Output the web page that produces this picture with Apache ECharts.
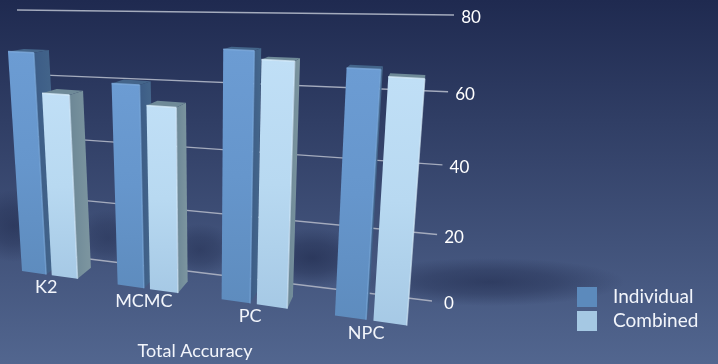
<!DOCTYPE html>
<html>
<head>
<meta charset="utf-8">
<style>html,body{margin:0;padding:0;background:#33426c}#chart{width:718px;height:364px}</style>
<script src="https://cdn.jsdelivr.net/npm/echarts@6/dist/echarts.min.js"></script>
</head>
<body>
<div id="chart"></div>
<script>
// Accuracy of each structure-learning method, individual and combined.
const categories = ['K2', 'MCMC', 'PC', 'NPC'];
const individual = [67, 59.6, 70.2, 66.9];
const combined = [55.6, 54.1, 68, 65.2];
const yTicks = [0, 20, 40, 60, 80];

const W = 718, H = 364;
const FONT = 'Lato, "Open Sans", sans-serif';
const BAR_OFFSET = { Individual: [0, 0.26], Combined: [0.32, 0.59] };

// Perspective planes, corners ordered (0,0) (1,0) (1,1) (0,1) in axis space.
function planeFrom(q) {
  const [x0, y0] = q[0], [x1, y1] = q[1], [x2, y2] = q[2], [x3, y3] = q[3];
  const dx1 = x1 - x2, dx2 = x3 - x2, sx = x0 - x1 + x2 - x3;
  const dy1 = y1 - y2, dy2 = y3 - y2, sy = y0 - y1 + y2 - y3;
  const den = dx1 * dy2 - dx2 * dy1;
  const g = (sx * dy2 - dx2 * sy) / den, h = (dx1 * sy - sx * dy1) / den;
  const a = x1 - x0 + g * x1, b = x3 - x0 + h * x3;
  const d = y1 - y0 + g * y1, e = y3 - y0 + h * y3;
  return p => {
    const u = p[0] / W, v = 1 - p[1] / H;
    const k = g * u + h * v + 1;
    return [(a * u + b * v + x0) / k, (d * u + e * v + y0) / k];
  };
}
const wall = planeFrom([[32, 252], [432, 301], [454, 15], [17, 10]]);
const front = planeFrom([[22, 271], [459, 333], [488, 18], [5, 5]]);
// The rear of each bar shrinks from the front towards the depth vanishing point.
const DEPTH_POINT = [440, -20], DEPTH = 0.037;
const rear = p => {
  const f = front(p);
  return [f[0] + (DEPTH_POINT[0] - f[0]) * DEPTH, f[1] + (DEPTH_POINT[1] - f[1]) * DEPTH];
};

const vGrad = (stops) => new echarts.graphic.LinearGradient(0, 0, 0, 1,
  stops.map((c, i) => ({ offset: i / (stops.length - 1), color: c })));
const hGrad = (stops) => new echarts.graphic.LinearGradient(0, 0, 1, 0,
  stops.map((c, i) => ({ offset: i / (stops.length - 1), color: c })));

const SKIN = {
  Individual: {
    front: vGrad(['#6c9cd3', '#6696cc', '#5e8cbe']),
    side: hGrad(['#3c5c86', '#46688c']),
    top: '#44658a',
    edge: '#7fadde'
  },
  Combined: {
    front: vGrad(['#c0dff6', '#b8d9f1', '#a6c9e5']),
    side: hGrad(['#6c8796', '#7d96a0']),
    top: '#6f8a98',
    edge: '#d8edfb'
  }
};

function barRenderer(name) {
  const skin = SKIN[name], span = BAR_OFFSET[name];
  return (params, api) => {
    const i = api.value(0), y = api.value(1);
    const at = (x, val) => api.coord([i + x, val]);
    const fl0 = front(at(span[0], 0)), fr0 = front(at(span[1], 0));
    const fl1 = front(at(span[0], y)), fr1 = front(at(span[1], y));
    const br0 = rear(at(span[1], 0)), br1 = rear(at(span[1], y));
    const bl1 = rear(at(span[0], y));
    const poly = (pts, fill) => ({ type: 'polygon', shape: { points: pts }, style: { fill } });
    const edge = (a, b, w, o) => ({
      type: 'line', shape: { x1: a[0], y1: a[1], x2: b[0], y2: b[1] },
      style: { stroke: skin.edge, lineWidth: w, opacity: o }
    });
    return {
      type: 'group',
      children: [
        poly([fr0, br0, br1, fr1], skin.side),
        poly([fl1, fr1, br1, bl1], skin.top),
        poly([fl0, fr0, fr1, fl1], skin.front),
        edge(fl1, fr1, 1.5, 0.8),
        edge(fr1, fr0, 1.5, 0.6)
      ]
    };
  };
}

const tickRows = yTicks.map(t => [t]);
const catRows = categories.map((c, i) => [i, c]);

const option = {
  animation: false,
  backgroundColor: new echarts.graphic.LinearGradient(0, 0, 0, 1, [
    { offset: 0, color: '#1f2a50' },
    { offset: 1, color: '#52668f' }
  ]),
  grid: { left: 0, top: 0, width: W, height: H },
  xAxis: { type: 'value', min: 0, max: 4, show: false },
  yAxis: { type: 'value', min: 0, max: 80, show: false },
  legend: {
    orient: 'vertical', left: 572, top: 282,
    itemWidth: 20, itemHeight: 20, itemGap: 4,
    icon: 'rect',
    data: ['Individual', 'Combined'],
    textStyle: { color: '#f2f5fb', fontFamily: FONT, fontSize: 19, padding: [0, 0, 0, 11] }
  },
  // Soft floor shadows cast by the bars; unit circles stretched into ellipses.
  graphic: [
    [490, 282, 135, 24, 0.55], [312, 258, 54, 30, 0.6], [200, 250, 36, 26, 0.45],
    [108, 238, 34, 28, 0.4], [14, 226, 42, 36, 0.5]
  ].map(([cx, cy, rx, ry, a]) => ({
    type: 'circle', z: 0, silent: true,
    x: cx, y: cy, scaleX: rx, scaleY: ry,
    shape: { cx: 0, cy: 0, r: 1 },
    style: {
      fill: new echarts.graphic.RadialGradient(0.5, 0.5, 0.5, [
        { offset: 0, color: `rgba(28,38,72,${a})` },
        { offset: 0.5, color: `rgba(28,38,72,${a * 0.65})` },
        { offset: 1, color: 'rgba(28,38,72,0)' }
      ])
    }
  })),
  series: [
    {
      type: 'custom', name: 'grid', silent: true, data: tickRows, z: 2,
      encode: { x: [], y: 0 },
      renderItem: (params, api) => {
        const t = api.value(0);
        const a = wall(api.coord([0, t])), b = wall(api.coord([4, t]));
        return {
          type: 'group',
          children: [
            { type: 'line', shape: { x1: a[0], y1: a[1], x2: b[0], y2: b[1] },
              style: { stroke: '#a4abbd', lineWidth: 1.3 } },
            { type: 'text', x: b[0] + 17, y: b[1] + 3,
              style: { text: String(t), fill: '#ffffff', font: '17px ' + FONT, align: 'center', verticalAlign: 'middle' } }
          ]
        };
      }
    },
    {
      type: 'custom', name: 'Individual', data: individual.map((v, i) => [i, v]), z: 3,
      encode: { x: 0, y: 1 }, itemStyle: { color: '#5c8abc' },
      renderItem: barRenderer('Individual')
    },
    {
      type: 'custom', name: 'Combined', data: combined.map((v, i) => [i, v]), z: 4,
      encode: { x: 0, y: 1 }, itemStyle: { color: '#a5c8e3' },
      renderItem: barRenderer('Combined')
    },
    {
      type: 'custom', name: 'labels', silent: true, data: catRows, z: 5,
      encode: { x: 0 },
      dimensions: ['i', { name: 'label', type: 'ordinal' }],
      renderItem: (params, api) => {
        const i = params.dataIndex;
        const p = front(api.coord([i + 0.26, 0]));
        return {
          type: 'text', x: p[0], y: p[1] + 13,
          style: { text: categories[i], fill: '#f2f5fb', font: '18px ' + FONT, align: 'center', verticalAlign: 'middle' }
        };
      }
    }
  ],
  title: {
    text: 'Total Accuracy', left: 195, top: 342, textAlign: 'center',
    padding: 0,
    textStyle: { color: '#f2f5fb', fontFamily: FONT, fontSize: 18, fontWeight: 'normal' }
  }
};

echarts.init(document.getElementById('chart'), null, { renderer: 'canvas' }).setOption(option);
</script>
</body>
</html>
